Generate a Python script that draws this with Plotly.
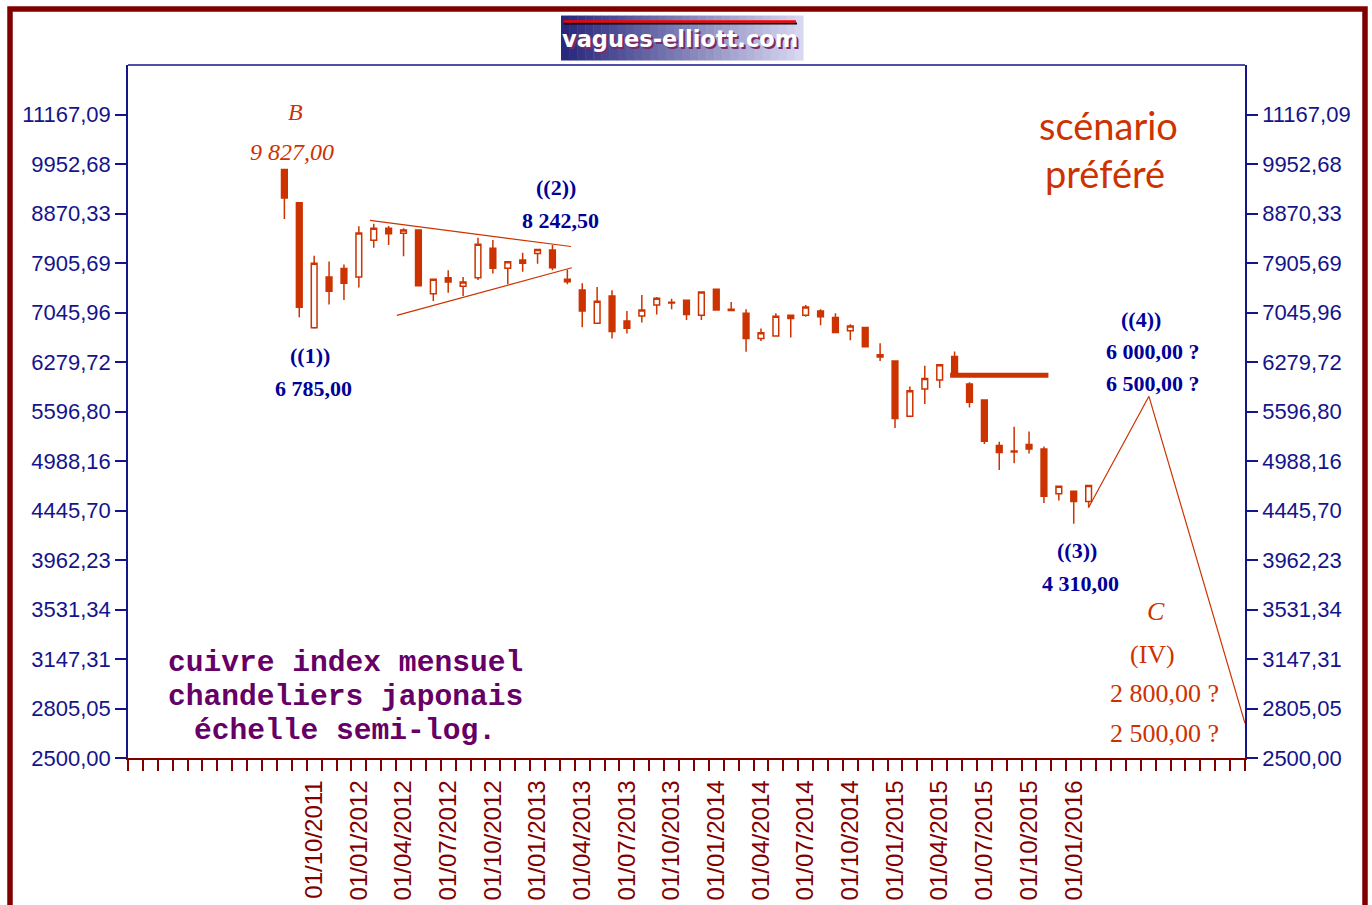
import math
import plotly.graph_objects as go

# ---------------- data ----------------
AXIS_START = "2010-10"      # first month slot of the x axis
N_MONTHS = 75               # number of monthly slots shown

months = ["2011-08", "2011-09", "2011-10", "2011-11", "2011-12",
          "2012-01", "2012-02", "2012-03", "2012-04", "2012-05", "2012-06",
          "2012-07", "2012-08", "2012-09", "2012-10", "2012-11", "2012-12",
          "2013-01", "2013-02", "2013-03", "2013-04", "2013-05", "2013-06",
          "2013-07", "2013-08", "2013-09", "2013-10", "2013-11", "2013-12",
          "2014-01", "2014-02", "2014-03", "2014-04", "2014-05", "2014-06",
          "2014-07", "2014-08", "2014-09", "2014-10", "2014-11", "2014-12",
          "2015-01", "2015-02", "2015-03", "2015-04", "2015-05", "2015-06",
          "2015-07", "2015-08", "2015-09", "2015-10", "2015-11", "2015-12",
          "2016-01", "2016-02"]

opens = [9827, 9095, 6800, 7653, 7803, 7653, 8333, 8570, 8470, 8535,
         7360, 7640, 7491, 7640, 8180, 7811, 7961, 8080, 8147, 7613,
         7424, 6873, 7321, 6910, 6990, 7172, 7215, 7249, 7000, 7437,
         7100, 7033, 6633, 6670, 7000, 7000, 7072, 6964, 6753, 6803,
         6387, 6296, 5535, 5897, 6022, 6360, 5966, 5747, 5170, 5105,
         5183, 5130, 4622, 4648, 4540]
highs = [9827, 9095, 8040, 7933, 7880, 8610, 8661, 8617, 8570, 8535,
         7614, 7773, 7653, 8385, 8340, 7931, 8097, 8160, 8243, 7789,
         7543, 7478, 7419, 7072, 7337, 7305, 7277, 7249, 7392, 7437,
         7221, 7100, 6787, 7033, 7000, 7172, 7100, 7033, 6855, 6803,
         6560, 6296, 5933, 6225, 6240, 6435, 5990, 5760, 5217, 5402,
         5343, 5158, 4705, 4648, 4712]
lows = [8760, 6970, 6785, 7180, 7255, 7467, 8190, 8243, 8030, 7497,
        7237, 7378, 7321, 7600, 7713, 7525, 7748, 7893, 7773, 7525,
        6810, 6873, 6633, 6710, 6882, 7015, 7100, 6925, 6925, 7085,
        7080, 6431, 6595, 6670, 6648, 6977, 6840, 6727, 6607, 6505,
        6296, 5387, 5535, 5696, 5910, 6088, 5650, 5190, 4885, 4962,
        5077, 4523, 4550, 4310, 4477]
closes = [9198, 7134, 7902, 7404, 7543, 8477, 8570, 8463, 8535, 7497,
          7614, 7566, 7566, 8258, 7811, 7931, 7900, 8160, 7820, 7570,
          7069, 7233, 6741, 6793, 7085, 7282, 7205, 7015, 7392, 7085,
          7080, 6633, 6720, 6986, 6947, 7138, 6977, 6727, 6830, 6505,
          6355, 5506, 5875, 6043, 6240, 6088, 5717, 5222, 5089, 5095,
          5130, 4595, 4705, 4540, 4712]

# triangle (positions in months since AXIS_START)
tri_upper_x = [16.25, 29.75]
tri_upper_y = [8728, 8215]
tri_lower_x = [18.05, 29.8]
tri_lower_y = [6998, 7819]
# horizontal resistance
resist_x = [55.2, 61.8]
resist_y = [6088, 6088]
# projected path ((4)) then C
proj_x = [64.5, 68.55, 75.0]
proj_y = [4477, 5798, 2710]

y_tick_values = [2500.00, 2805.05, 3147.31, 3531.34, 3962.23, 4445.70, 4988.16,
                 5596.80, 6279.72, 7045.96, 7905.69, 8870.33, 9952.68, 11167.09]
y_tick_labels = ["2500,00", "2805,05", "3147,31", "3531,34", "3962,23", "4445,70",
                 "4988,16", "5596,80", "6279,72", "7045,96", "7905,69", "8870,33",
                 "9952,68", "11167,09"]
x_tick_labels = ["01/10/2011", "01/01/2012", "01/04/2012", "01/07/2012", "01/10/2012",
                 "01/01/2013", "01/04/2013", "01/07/2013", "01/10/2013", "01/01/2014",
                 "01/04/2014", "01/07/2014", "01/10/2014", "01/01/2015", "01/04/2015",
                 "01/07/2015", "01/10/2015", "01/01/2016"]

Y_MIN = 2500
Y_DECADES = 0.7

# ---------------- helpers ----------------
def month_index(ym):
    y0, m0 = map(int, AXIS_START.split("-"))
    y, m = map(int, ym.split("-"))
    return (y - y0) * 12 + (m - m0)

def label_month(lbl):
    d, m, y = lbl.split("/")
    return f"{y}-{m}"

xs = [month_index(m) + 0.5 for m in months]
x_tick_pos = [month_index(label_month(l)) + 0.5 for l in x_tick_labels]

# page layout in pixels
W, H = 1372, 905
L, R, T, B = 128, 1245, 64.5, 758

def xp(px):
    return (px - L) / (R - L)

def yp(py):
    return (B - py) / (B - T)

RED = "#cc3300"
NAVY = "#14148c"
MAROON = "#800000"
BLUE_TXT = "#000099"

fig = go.Figure()

fig.add_trace(go.Candlestick(
    x=xs, open=opens, high=highs, low=lows, close=closes,
    increasing=dict(line=dict(color=RED, width=1.5), fillcolor="white"),
    decreasing=dict(line=dict(color=RED, width=1.5), fillcolor=RED),
    whiskerwidth=0, showlegend=False, hoverinfo="skip",
))

for lx, ly in [(tri_upper_x, tri_upper_y), (tri_lower_x, tri_lower_y)]:
    fig.add_trace(go.Scatter(x=lx, y=ly, mode="lines",
                             line=dict(color=RED, width=1.2),
                             showlegend=False, hoverinfo="skip"))

fig.add_trace(go.Scatter(x=resist_x, y=resist_y, mode="lines", yaxis="y2",
                         line=dict(color=RED, width=5),
                         showlegend=False, hoverinfo="skip"))
fig.add_trace(go.Scatter(x=proj_x, y=proj_y, mode="lines", yaxis="y2",
                         line=dict(color=RED, width=1.2),
                         showlegend=False, hoverinfo="skip", cliponaxis=False))

yr = [math.log10(Y_MIN), math.log10(Y_MIN) + Y_DECADES]
yaxis_common = dict(
    type="log", range=yr, tickmode="array", tickvals=y_tick_values,
    ticktext=y_tick_labels, ticks="outside", ticklen=11, tickwidth=1.5,
    tickcolor=NAVY, showline=True, linecolor=NAVY, linewidth=1.5,
    showgrid=False, zeroline=False, automargin=False,
    tickfont=dict(family="Liberation Sans, Arial", size=22, color=NAVY),
)

fig.update_layout(
    width=W, height=H,
    margin=dict(l=L, r=W - R, t=T, b=H - B, pad=0, autoexpand=False),
    paper_bgcolor="white", plot_bgcolor="white",
    boxgap=0.45,
    xaxis=dict(
        range=[0, N_MONTHS], tickmode="array", tickvals=x_tick_pos,
        ticktext=x_tick_labels, tickangle=-90, ticks="outside", ticklen=11,
        tickcolor="rgba(0,0,0,0)", ticklabelstandoff=0, automargin=False,
        showline=True, linecolor=MAROON, linewidth=1.5,
        showgrid=False, zeroline=False, rangeslider=dict(visible=False),
        tickfont=dict(family="Liberation Sans, Arial", size=24, color=MAROON),
        minor=dict(ticks="outside", tickmode="linear", tick0=0, dtick=1,
                   ticklen=11, tickwidth=1.5, tickcolor=MAROON, showgrid=False),
    ),
    yaxis=dict(side="left", **yaxis_common),
    yaxis2=dict(side="right", overlaying="y", **yaxis_common),
    showlegend=False,
)

shapes = []
# outer maroon frame
shapes.append(dict(type="rect", xref="paper", yref="paper",
                   x0=xp(10), x1=xp(1365), y0=yp(8.5), y1=yp(925),
                   line=dict(color=MAROON, width=5.5), fillcolor="rgba(0,0,0,0)"))
# top border of plot area
shapes.append(dict(type="line", xref="paper", yref="paper", x0=0, x1=1, y0=1, y1=1,
                   line=dict(color=NAVY, width=1.5)))
# logo background gradient
lx0, lx1, ly0, ly1 = 561, 803, 15, 60
n = 30
c0 = (40, 40, 125)
c1 = (215, 215, 240)
for i in range(n):
    t = i / (n - 1)
    c = tuple(int(c0[k] + (c1[k] - c0[k]) * t) for k in range(3))
    shapes.append(dict(type="rect", xref="paper", yref="paper",
                       x0=xp(lx0 + (lx1 - lx0) * i / n), x1=xp(lx0 + (lx1 - lx0) * (i + 1) / n + 0.5),
                       y0=yp(ly1), y1=yp(ly0), line=dict(width=0),
                       fillcolor=f"rgb{c}"))
shapes.append(dict(type="line", xref="paper", yref="paper", x0=xp(564), x1=xp(797),
                   y0=yp(23), y1=yp(23), line=dict(color="black", width=2)))
shapes.append(dict(type="line", xref="paper", yref="paper", x0=xp(564), x1=xp(796),
                   y0=yp(21), y1=yp(21), line=dict(color="#ff0000", width=2.5)))
fig.update_layout(shapes=shapes)

ann = []
def text(px, py, s, size, color, family="Liberation Serif", bold=False, italic=False):
    if bold:
        s = f"<b>{s}</b>"
    if italic:
        s = f"<i>{s}</i>"
    ann.append(dict(x=xp(px), y=yp(py), xref="paper", yref="paper", text=s,
                    showarrow=False, xanchor="center", yanchor="middle",
                    font=dict(family=family, size=size, color=color)))

# logo text
text(682, 40, "vagues-elliott.com", 22.5, "#7a2a66", family="DejaVu Sans", bold=True)
text(680, 38.5, "vagues-elliott.com", 22.5, "white", family="DejaVu Sans", bold=True)

text(295, 112, "B", 24, RED, italic=True)
text(292, 152, "9 827,00", 24, RED, italic=True)
text(310, 355, "((1))", 22, BLUE_TXT, bold=True)
text(313, 388, "6 785,00", 22, BLUE_TXT, bold=True)
text(556, 187, "((2))", 22, BLUE_TXT, bold=True)
text(560, 220, "8 242,50", 22, BLUE_TXT, bold=True)
text(1077, 550, "((3))", 22, BLUE_TXT, bold=True)
text(1080, 583, "4 310,00", 22, BLUE_TXT, bold=True)
text(1141, 319, "((4))", 22, BLUE_TXT, bold=True)
text(1153, 351, "6 000,00 ?", 22, BLUE_TXT, bold=True)
text(1153, 383, "6 500,00 ?", 22, BLUE_TXT, bold=True)
text(1156, 611, "C", 26, RED, italic=True)
text(1152, 654, "(IV)", 26, RED)
text(1164, 693, "2 800,00 ?", 26, RED)
text(1164, 733, "2 500,00 ?", 26, RED)
text(1108, 125, "scénario", 38, RED, family="Lato")
text(1105, 173, "préféré", 38, RED, family="Lato")
text(345, 663, "cuivre index mensuel", 29.6, "#660066", family="Liberation Mono", bold=True)
text(345, 697, "chandeliers japonais", 29.6, "#660066", family="Liberation Mono", bold=True)
text(345, 731, "échelle semi-log.", 29.6, "#660066", family="Liberation Mono", bold=True)
fig.update_layout(annotations=ann)

fig.write_html("out.html", config={"displayModeBar": False},
               post_script="document.body.style.margin='0px';")
